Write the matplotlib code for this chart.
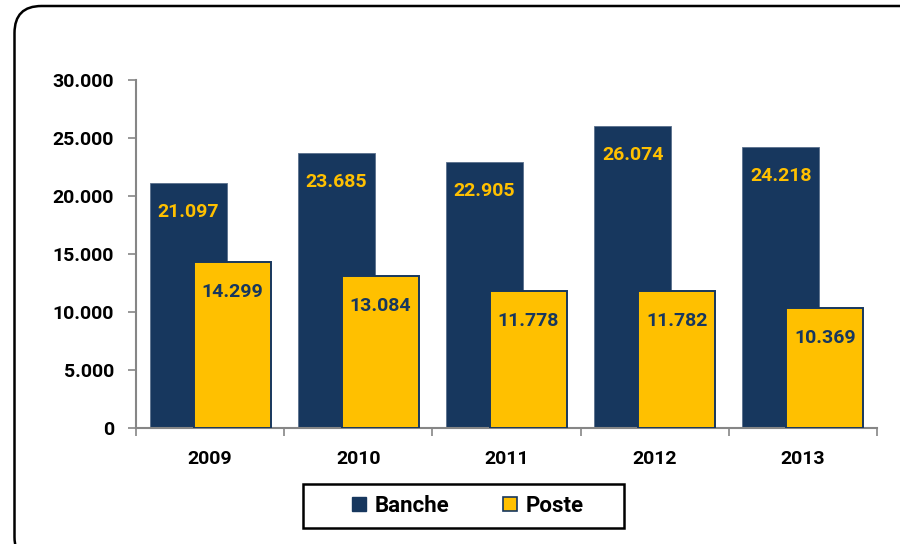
import matplotlib
matplotlib.use("Agg")
import matplotlib.pyplot as plt
import numpy as np
from matplotlib.patches import FancyBboxPatch, Rectangle, Patch

plt.rcParams["font.family"] = ["Roboto", "DejaVu Sans"]
plt.rcParams["font.weight"] = "bold"

years = ["2009", "2010", "2011", "2012", "2013"]
banche = [21097, 23685, 22905, 26074, 24218]
poste = [14299, 13084, 11778, 11782, 10369]
y_ticks = [0, 5000, 10000, 15000, 20000, 25000, 30000]

NAVY = "#17375E"
GOLD = "#FFC000"
AXIS_GREY = "#868686"
FS = 14


def fmt(v):
    return f"{v:,}".replace(",", ".")


fig = plt.figure(figsize=(9, 5.44), dpi=100)
ax = fig.add_axes([136 / 900, 1 - 428 / 544, (877 - 136) / 900, (428 - 80) / 544])

x = np.arange(len(years))
w = 0.52
off = 0.148
ax.bar(x - off, banche, w, color=NAVY, edgecolor="#5a6f8c", linewidth=0.6, zorder=2)
ax.bar(x + off, poste, w, color=GOLD, edgecolor=NAVY, linewidth=1.4, zorder=3)

for xi, v in zip(x, banche):
    ax.annotate(fmt(v), (xi - off, v), xytext=(0, -29), textcoords="offset pixels",
                ha="center", va="center", color=GOLD, fontsize=FS, fontweight="bold", zorder=4)
for xi, v in zip(x, poste):
    ax.annotate(fmt(v), (xi + off, v), xytext=(0, -30), textcoords="offset pixels",
                ha="center", va="center", color=NAVY, fontsize=FS, fontweight="bold", zorder=4)

ax.set_xlim(-0.5, len(years) - 0.5)
ax.set_ylim(0, 30000)
ax.set_yticks(y_ticks)
ax.set_yticklabels([fmt(t) for t in y_ticks], fontsize=FS, fontweight="bold")
ax.set_xticks(x)
ax.set_xticklabels(years, fontsize=FS, fontweight="bold")
ax.set_xticks(np.arange(-0.5, len(years)), minor=True)
ax.tick_params(axis="x", which="major", length=0, pad=16)
ax.tick_params(axis="x", which="minor", length=6, color=AXIS_GREY, width=1.2)
ax.tick_params(axis="y", length=6, color=AXIS_GREY, width=1.2, pad=10)
for s in ["top", "right"]:
    ax.spines[s].set_visible(False)
for s in ["left", "bottom"]:
    ax.spines[s].set_color(AXIS_GREY)
    ax.spines[s].set_linewidth(1.5)

# legend box
fig.patches.append(Rectangle((303 / 900, 1 - 528 / 544), (624 - 303) / 900, 44 / 544,
                             transform=fig.transFigure, facecolor="white",
                             edgecolor="black", linewidth=1.8))
handles = [Patch(facecolor=NAVY, edgecolor=NAVY, label="Banche"),
           Patch(facecolor=GOLD, edgecolor=NAVY, linewidth=1.2, label="Poste")]
fig.legend(handles=handles, loc="center", bbox_to_anchor=(468 / 900, 1 - 506 / 544),
           ncol=2, frameon=False, handlelength=0.62, handleheight=0.62,
           handletextpad=0.4, columnspacing=2.4, prop={"weight": "bold", "size": 16})

# rounded outer frame
frame = FancyBboxPatch((0.145, -0.2), 9.4, 5.58, boxstyle="round,pad=0,rounding_size=0.27",
                       transform=fig.dpi_scale_trans, facecolor="none",
                       edgecolor="black", linewidth=1.8)
fig.patches.append(frame)

fig.savefig("out.png", dpi=100, facecolor="white")
